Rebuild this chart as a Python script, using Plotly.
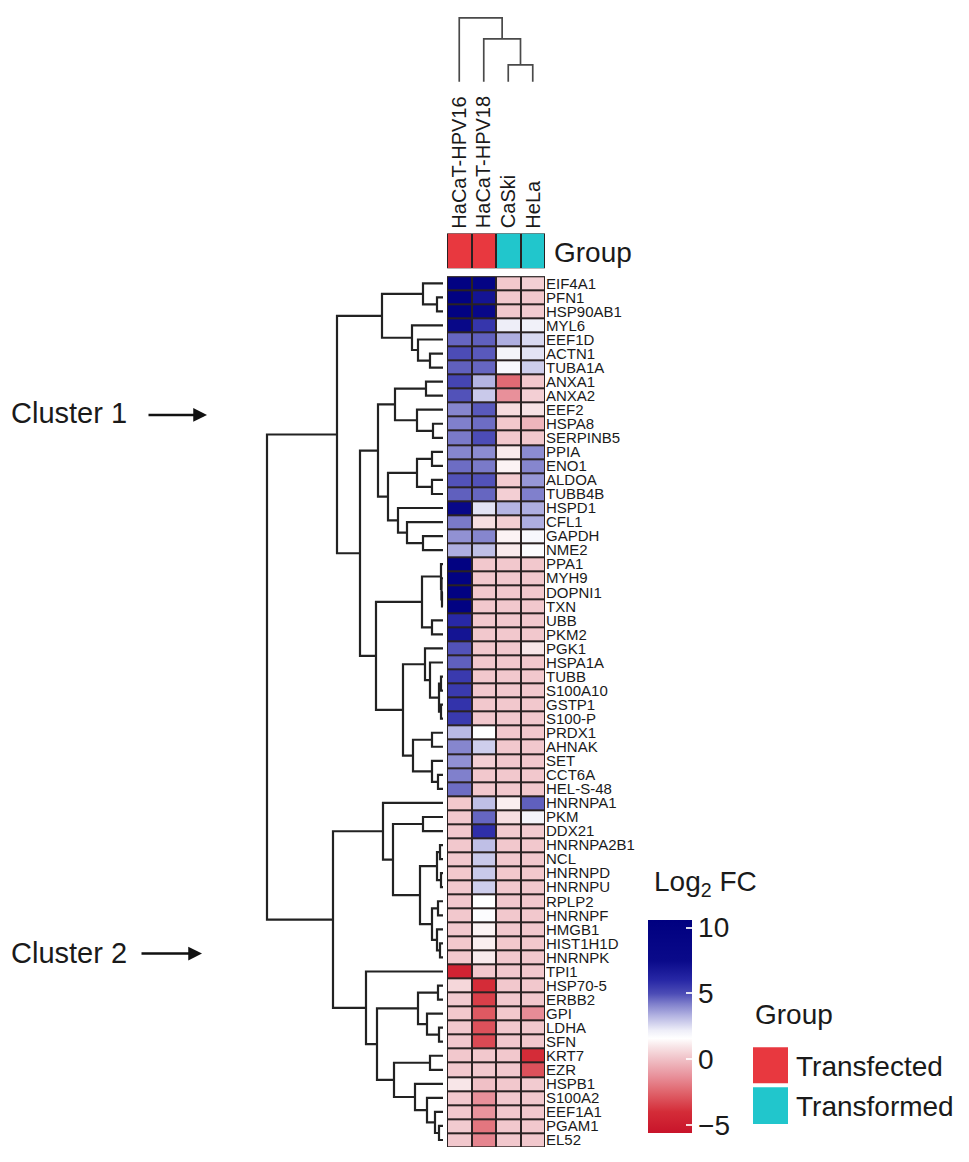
import plotly.graph_objects as go

W, H = 969, 1162

def px_x(p):
    return p / W

def px_y(p):
    return 1 - p / H

# ---------------- data ----------------
samples = ["HaCaT-HPV16", "HaCaT-HPV18", "CaSki", "HeLa"]
groups = ["Transfected", "Transfected", "Transformed", "Transformed"]
group_colors = {"Transfected": "#E8383F", "Transformed": "#21C6CC"}

genes = ["EIF4A1", "PFN1", "HSP90AB1", "MYL6", "EEF1D", "ACTN1", "TUBA1A", "ANXA1", "ANXA2",
         "EEF2", "HSPA8", "SERPINB5", "PPIA", "ENO1", "ALDOA", "TUBB4B", "HSPD1", "CFL1",
         "GAPDH", "NME2", "PPA1", "MYH9", "DOPNI1", "TXN", "UBB", "PKM2", "PGK1", "HSPA1A",
         "TUBB", "S100A10", "GSTP1", "S100-P", "PRDX1", "AHNAK", "SET", "CCT6A", "HEL-S-48",
         "HNRNPA1", "PKM", "DDX21", "HNRNPA2B1", "NCL", "HNRNPD", "HNRNPU", "RPLP2", "HNRNPF",
         "HMGB1", "HIST1H1D", "HNRNPK", "TPI1", "HSP70-5", "ERBB2", "GPI", "LDHA", "SFN",
         "KRT7", "EZR", "HSPB1", "S100A2", "EEF1A1", "PGAM1", "EL52"]

hpv16 = [10, 10, 10, 8, 4.6, 5.0, 4.7, 5.2, 4.9,
         4.1, 4.2, 4.3, 4.1, 4.5, 4.9, 4.7, 8, 4.3,
         3.9, 3.4, 10, 10, 10, 10, 6.0, 7.0, 4.9, 4.7,
         5.5, 5.5, 5.7, 5.5, 3.2, 4.1, 3.9, 4.2, 4.5,
         0.2, 0.2, 0.2, 0.2, 0.2, 0.2, 0.2, 0.2, 0.2,
         0.2, 0.2, 0.2, -4.6, 0.6, 0.3, 0.2, 0.2, 0.2,
         0.2, 0.2, 1.0, 0.2, 0.2, 0.3, 0.2]

hpv18 = [9.5, 7.0, 8.0, 5.6, 4.7, 4.8, 4.6, 3.3, 2.9,
         4.8, 4.5, 5.0, 4.0, 4.3, 4.9, 4.6, 2.4, 0.8,
         4.1, 3.1, 0.2, 0.2, 0.2, 0.2, 0.2, 0.2, 0.2, 0.2,
         0.2, 0.2, 0.2, 0.2, 1.6, 2.8, 0.4, 0.2, 0.2,
         3.1, 4.6, 5.8, 3.1, 2.9, 2.9, 2.8, 1.6, 1.7,
         1.3, 1.2, 1.1, 0.2, -4.0, -3.5, -2.8, -3.0, -3.2,
         0.2, 0.2, 0.0, -1.3, -1.2, -2.0, -1.6]

caski = [0.2, 0.2, 0.2, 2.2, 3.4, 2.0, 1.8, -2.3, -1.3,
         0.7, 0.2, 0.2, 1.1, 1.3, 0.3, 0.4, 3.3, 0.4,
         1.3, 1.1, 0.2, 0.2, 0.2, 0.2, 0.2, 0.2, 0.2, 0.2,
         0.2, 0.2, 0.2, 0.2, 0.2, 0.2, 0.2, 0.2, 0.2,
         1.2, 0.8, 0.3, 0.2, 0.2, 0.2, 0.2, 0.2, 0.2,
         0.2, 0.2, 0.2, 0.2, 0.2, 0.2, 0.2, 0.2, 0.2,
         0.2, 0.2, 0.2, 0.2, 0.2, 0.2, 0.2]

hela = [0.4, 0.2, 0.3, 2.1, 2.6, 2.4, 2.8, 0.2, 0.4,
        0.9, -0.3, 0.2, 4.0, 4.1, 3.8, 4.2, 3.4, 3.4,
        1.9, 1.7, 0.2, 0.2, 0.2, 0.2, 0.2, 0.2, 1.0, 0.2,
        0.2, 0.2, 0.2, 0.2, 0.2, 0.2, 0.2, 0.2, 0.2,
        4.7, 2.0, 0.3, 0.2, 0.2, 0.2, 0.2, 0.2, 0.2,
        0.2, 0.2, 0.2, 0.2, 0.2, 0.2, -1.4, 0.2, 0.2,
        -4.0, -3.0, 0.3, 0.2, 0.2, 0.2, 0.2]

# row clustering tree: (merge height, left, right)
row_tree = (176,
    (106,
        (61,
            (20, "EIF4A1", (6, "PFN1", "HSP90AB1")),
            (31, "MYL6", (25, "EEF1D", (13, "ACTN1", "TUBA1A")))),
        (83,
            (65,
                (48, (17, "ANXA1", "ANXA2"), (26, "EEF2", (10, "HSPA8", "SERPINB5"))),
                (55, (26, (11, "PPIA", "ENO1"), (11, "ALDOA", "TUBB4B")),
                     (45, "HSPD1", (36, "CFL1", (20, "GAPDH", "NME2"))))),
            (67,
                (21, (2, "PPA1", (1.5, "MYH9", (1, "DOPNI1", "TXN"))), (11, "UBB", "PKM2")),
                (40,
                    (18, "PGK1", (13, "HSPA1A", (4, (2, "TUBB", "S100A10"), (2, "GSTP1", "S100-P")))),
                    (30, (11, "PRDX1", "AHNAK"), (11, "SET", (5, "CCT6A", "HEL-S-48"))))))),
    (110,
        (60, "HNRNPA1",
            (50, (20, "PKM", "DDX21"),
                 (23, (6, (3, "HNRNPA2B1", "NCL"), (2, "HNRNPD", "HNRNPU")),
                      (11, (5, "RPLP2", "HNRNPF"), (6, "HMGB1", (3, "HIST1H1D", "HNRNPK")))))),
        (77, "TPI1",
            (66,
                (25, (5, "HSP70-5", "ERBB2"), (16, "GPI", (4, "LDHA", "SFN"))),
                (49, (13, "KRT7", "EZR"),
                     (28, "HSPB1", (16, "S100A2", (8, "EEF1A1", (4, "PGAM1", "EL52")))))))))

col_tree = (64, "HaCaT-HPV16", (43, "HaCaT-HPV18", (17, "CaSki", "HeLa")))

# ---------------- helpers ----------------
def dendro(node, leaf_pos):
    if isinstance(node, str):
        return leaf_pos[node], 0.0, [], []
    h, a, b = node
    pa, ha, sa, ta = dendro(a, leaf_pos)
    pb, hb, sb, tb = dendro(b, leaf_pos)
    hs = sa + sb + [ha, h, h, hb, None]
    ps = ta + tb + [pa, pa, pb, pb, None]
    return (pa + pb) / 2, h, hs, ps

row_pos = {g: i for i, g in enumerate(genes)}
col_pos = {s: i for i, s in enumerate(samples)}
_, _, row_h, row_p = dendro(row_tree, row_pos)
_, _, col_h, col_p = dendro(col_tree, col_pos)

z = [[hpv16[i], hpv18[i], caski[i], hela[i]] for i in range(len(genes))]
zmin, zmax = -5.6, 10.6
stops = [(-5.6, "#C8142A"), (-4.0, "#D42C38"), (-2.5, "#E0646C"), (-1.3, "#E8909A"),
         (0.0, "#F0C0C6"), (1.0, "#F8E6E8"), (1.6, "#FFFFFF"), (2.2, "#EEEEF8"),
         (3.3, "#B4B4E2"), (4.2, "#8080CC"), (5.0, "#4C4CB6"), (6.0, "#2828A6"),
         (7.5, "#0A0A8A"), (10.6, "#000080")]
colorscale = [[(v - zmin) / (zmax - zmin), c] for v, c in stops]

FONT = "Liberation Sans, Arial, Helvetica, sans-serif"
TXT = "#1a1a1a"
BORDER = "#2a2222"

fig = go.Figure()

fig.add_trace(go.Heatmap(
    z=z, x=list(range(len(samples))), y=list(range(len(genes))),
    colorscale=colorscale, zmin=zmin, zmax=zmax, xgap=2, ygap=2,
    xaxis="x", yaxis="y",
    colorbar=dict(
        x=px_x(648), xanchor="left", xpad=0,
        y=px_y(920), yanchor="top", ypad=0,
        len=213, lenmode="pixels", thickness=44, thicknessmode="pixels",
        outlinewidth=0, tickvals=[-5, 0, 5, 10], ticks="inside", ticklen=6,
        tickcolor="rgba(255,255,255,0.85)", tickwidth=1.5,
        tickfont=dict(size=28, family=FONT, color=TXT)),
))

fig.add_trace(go.Scatter(x=row_h, y=row_p, mode="lines", xaxis="x2", yaxis="y2",
                         line=dict(color="#222222", width=2.2), hoverinfo="skip", showlegend=False))

fig.add_trace(go.Scatter(x=col_p, y=col_h, mode="lines", xaxis="x3", yaxis="y3",
                         line=dict(color="#4a4a4a", width=1.7), hoverinfo="skip", showlegend=False))

grp_z = [[0 if g == "Transfected" else 1 for g in groups]]
fig.add_trace(go.Heatmap(
    z=grp_z, x=list(range(len(samples))), y=[0], xaxis="x4", yaxis="y4",
    colorscale=[[0, group_colors["Transfected"]], [0.5, group_colors["Transfected"]],
                [0.5, group_colors["Transformed"]], [1, group_colors["Transformed"]]],
    zmin=0, zmax=1, showscale=False, xgap=2, hoverinfo="skip"))

hm_dom = [px_x(447), px_x(545)]
hm_ydom = [px_y(1148), px_y(275)]
nrow = len(genes)

def hidden(**kw):
    d = dict(showgrid=False, zeroline=False, showticklabels=False, ticks="", showline=False)
    d.update(kw)
    return d

fig.update_layout(
    width=W, height=H, margin=dict(l=0, r=0, t=0, b=0),
    paper_bgcolor="white", plot_bgcolor="white",
    font=dict(family=FONT, color=TXT),
    showlegend=False,
    xaxis=hidden(domain=hm_dom, range=[-0.5, 3.5]),
    yaxis=dict(domain=hm_ydom, range=[nrow - 0.5, -0.5], side="right",
               tickvals=list(range(nrow)), ticktext=genes, showgrid=False, zeroline=False,
               ticks="", showline=False, tickfont=dict(size=15, family=FONT, color=TXT)),
    xaxis2=hidden(domain=[px_x(258), px_x(446)], range=[185, -3]),
    yaxis2=hidden(domain=hm_ydom, range=[nrow - 0.5, -0.5]),
    xaxis3=hidden(domain=hm_dom, range=[-0.5, 3.5]),
    yaxis3=hidden(domain=[px_y(84), px_y(8)], range=[-4, 72]),
    xaxis4=hidden(domain=hm_dom, range=[-0.5, 3.5]),
    yaxis4=hidden(domain=[px_y(267), px_y(232)], range=[-0.5, 0.5]),
)

shapes = [
    dict(type="rect", xref="x", yref="y", x0=-0.5, x1=3.5, y0=-0.5, y1=nrow - 0.5,
         fillcolor=BORDER, line=dict(color=BORDER, width=1.5), layer="below"),
    dict(type="rect", xref="x4", yref="y4", x0=-0.5, x1=3.5, y0=-0.5, y1=0.5,
         fillcolor=BORDER, line=dict(color=BORDER, width=1.5), layer="below"),
    dict(type="rect", xref="paper", yref="paper", x0=px_x(753), x1=px_x(788),
         y0=px_y(1084), y1=px_y(1048), fillcolor=group_colors["Transfected"], line=dict(width=0)),
    dict(type="rect", xref="paper", yref="paper", x0=px_x(753), x1=px_x(788),
         y0=px_y(1125), y1=px_y(1088), fillcolor=group_colors["Transformed"], line=dict(width=0)),
]

annotations = []
for i, s in enumerate(samples):
    annotations.append(dict(x=i, xref="x3", y=px_y(229), yref="paper", yanchor="bottom",
                            xanchor="center", textangle=-90, text=s, showarrow=False,
                            font=dict(size=20, family=FONT, color=TXT)))

def label(text, x, y, size=28, xanchor="left"):
    return dict(x=px_x(x), y=px_y(y), xref="paper", yref="paper", xanchor=xanchor,
                yanchor="middle", text=text, showarrow=False,
                font=dict(size=size, family=FONT, color=TXT))

annotations += [
    label("Group", 552, 251),
    label("Cluster 1", 9, 412, size=29),
    label("Cluster 2", 9, 953, size=29),
    label("Log<sub>2</sub> FC", 652, 884),
    label("Group", 753, 1015),
    label("Transfected", 794, 1067),
    label("Transformed", 794, 1107),
    dict(x=px_x(207), y=px_y(414), xref="paper", yref="paper", ax=-60, ay=0,
         axref="pixel", ayref="pixel", text="", showarrow=True, arrowhead=2,
         arrowsize=1.1, arrowwidth=2.5, arrowcolor="#111111"),
    dict(x=px_x(202), y=px_y(954), xref="paper", yref="paper", ax=-62, ay=0,
         axref="pixel", ayref="pixel", text="", showarrow=True, arrowhead=2,
         arrowsize=1.1, arrowwidth=2.5, arrowcolor="#111111"),
]

fig.update_layout(shapes=shapes, annotations=annotations)
fig.write_html("out.html", config={"displayModeBar": False},
               post_script="document.body.style.margin='0px';document.body.style.overflow='hidden';")
